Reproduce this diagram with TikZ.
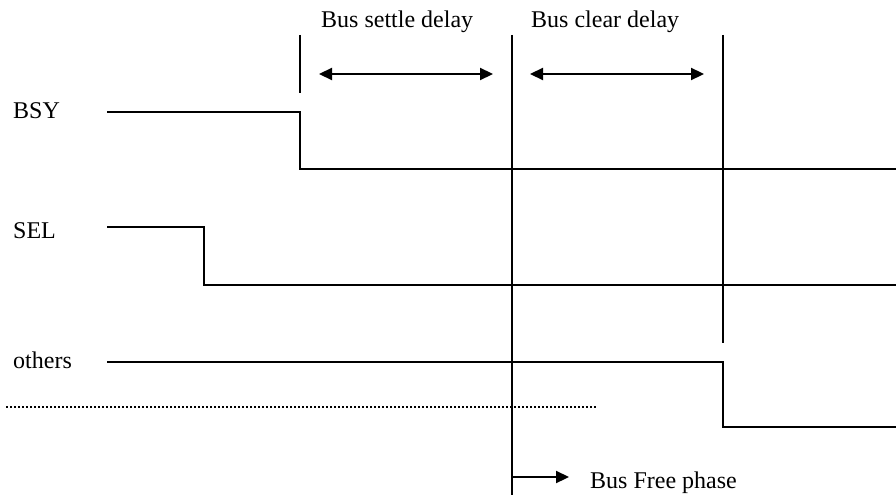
\documentclass[tikz,border=0pt]{standalone}
\usepackage{fontspec}
\setmainfont{Liberation Serif}
\usetikzlibrary{arrows.meta}
\begin{document}
\begin{tikzpicture}[x=1pt,y=-1pt,
  wave/.style={line width=2.2pt, line join=miter},
  marker/.style={line width=2.2pt},
  span/.style={line width=2.2pt,
    {Triangle[length=13pt,width=12pt]}-{Triangle[length=13pt,width=12pt]}},
  pointer/.style={line width=2.2pt, -{Triangle[length=13pt,width=12pt]}},
  guide/.style={line width=1.6pt, dash pattern=on 1.6pt off 2.4pt},
  lbl/.style={anchor=base west, inner sep=0pt, font=\fontsize{24}{28}\selectfont},
]
\useasboundingbox (0,0) rectangle (896,495);

% signal names and annotations
\node[lbl] (bsy)    at (13,118)  {BSY};
\node[lbl] (sel)    at (13,238)  {SEL};
\node[lbl] (oth)    at (13,368)  {others};
\node[lbl] (settle) at (321,28)  {Bus settle delay};
\node[lbl] (clear)  at (531,28)  {Bus clear delay};
\node[lbl] (free)   at (590,488) {Bus Free phase};

% time markers
\coordinate (m0top) at (300,35);  \coordinate (m0bot) at (300,93);
\coordinate (m1top) at (512,35);  \coordinate (m1bot) at (512,495);
\coordinate (m2top) at (723,35);  \coordinate (m2bot) at (723,343);
\draw[marker] (m0top) -- (m0bot);
\draw[marker] (m1top) -- (m1bot);
\draw[marker] (m2top) -- (m2bot);

% delay spans
\coordinate (s0a) at (319,74); \coordinate (s0b) at (493,74);
\coordinate (s1a) at (530,74); \coordinate (s1b) at (704,74);
\draw[span] (s0a) -- (s0b);
\draw[span] (s1a) -- (s1b);

% waveforms
\coordinate (bsyA) at (107,112); \coordinate (bsyB) at (300,169); \coordinate (bsyC) at (896,169);
\draw[wave] (bsyA) -| (bsyB) -- (bsyC);
\coordinate (selA) at (107,227); \coordinate (selB) at (204,285); \coordinate (selC) at (896,285);
\draw[wave] (selA) -| (selB) -- (selC);
\coordinate (othA) at (107,362); \coordinate (othB) at (723,427); \coordinate (othC) at (896,427);
\draw[wave] (othA) -| (othB) -- (othC);

% dotted separator
\coordinate (dotA) at (6,407); \coordinate (dotB) at (597,407);
\draw[guide] (dotA) -- (dotB);

% bus free phase pointer
\coordinate (fa) at (512,477); \coordinate (fb) at (569,477);
\draw[pointer] (fa) -- (fb);
\end{tikzpicture}
\end{document}
